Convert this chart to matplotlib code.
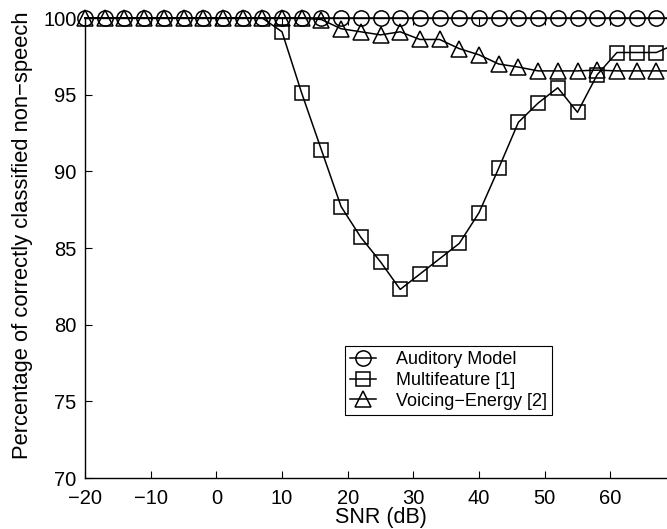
import matplotlib
matplotlib.use('Agg')
import matplotlib.pyplot as plt

plt.rcParams['font.family'] = ['Liberation Sans', 'DejaVu Sans']
plt.rcParams['font.size'] = 12

# SNR values (dB), 3 dB steps
snr = [-20, -17, -14, -11, -8, -5, -2, 1, 4, 7, 10, 13, 16, 19, 22,
       25, 28, 31, 34, 37, 40, 43, 46, 49, 52, 55, 58, 61, 64, 67, 70]

auditory = [100.0] * len(snr)

multifeature = [100.0, 100.0, 100.0, 100.0, 100.0, 100.0, 100.0, 100.0, 100.0, 100.0,
                99.1, 95.1, 91.4, 87.7, 85.7, 84.1, 82.3, 83.3, 84.3, 85.3,
                87.3, 90.2, 93.2, 94.45, 95.45, 93.85, 96.3, 97.75, 97.75, 97.75, 98.3]

voicing = [100.0, 100.0, 100.0, 100.0, 100.0, 100.0, 100.0, 100.0, 100.0, 100.0,
           100.0, 100.0, 99.9, 99.3, 99.1, 98.9, 99.1, 98.6, 98.6, 98.0,
           97.6, 97.0, 96.8, 96.55, 96.55, 96.55, 96.6, 96.55, 96.55, 96.55, 96.55]

xticks = [-20, -10, 0, 10, 20, 30, 40, 50, 60]
yticks = [70, 75, 80, 85, 90, 95, 100]

fig = plt.figure(figsize=(6.67, 5.29), dpi=100)
# axes box: x from 85 px to 676 px (right edge falls just off the picture), y 18..478 px
ax = fig.add_axes([85 / 667, 51 / 529, 591 / 667, 460 / 529])

lw = 1.1
ax.plot(snr, auditory, color='black', lw=lw, marker='o', ms=11,
        mfc='none', mew=lw, label='Auditory Model', clip_on=False)
ax.plot(snr, multifeature, color='black', lw=lw, marker='s', ms=9.5,
        mfc='none', mew=lw, label='Multifeature [1]', clip_on=False,
        markevery=list(range(10, len(snr))))
ax.plot(snr, voicing, color='black', lw=lw, marker='^', ms=11.5,
        mfc='none', mew=lw, label='Voicing\u2212Energy [2]', clip_on=False)

ax.set_xlim(-20, 70)
ax.set_ylim(70, 100)
ax.set_xticks(xticks)
ax.set_yticks(yticks)
ax.set_xticklabels([str(t).replace('-', '\u2212') for t in xticks])
ax.tick_params(direction='in', length=5, width=0.8, top=True, right=True,
               labelsize=14.5)
ax.tick_params(axis='x', pad=8)
ax.tick_params(axis='y', pad=6)
for s in ax.spines.values():
    s.set_linewidth(1.0)

ax.set_xlabel('SNR (dB)', fontsize=15.5)
ax.xaxis.set_label_coords(0.5, (478 - 518) / 460)
ax.xaxis.label.set_va('center')
ax.set_ylabel('Percentage of correctly classified non\u2212speech', fontsize=15.8)
ax.yaxis.set_label_coords((23 - 85) / 591, (478 - 235) / 460)
ax.yaxis.label.set_va('center')

leg = ax.legend(loc='upper left',
                bbox_to_anchor=((345 - 85) / 591, (478 - 346) / 460),
                frameon=True, fancybox=False, edgecolor='black', framealpha=1,
                fontsize=13, handlelength=1.4, handletextpad=1.1,
                borderpad=0.3, labelspacing=0.2, borderaxespad=0)
leg.get_frame().set_linewidth(0.8)

fig.savefig('out.png', dpi=100)
